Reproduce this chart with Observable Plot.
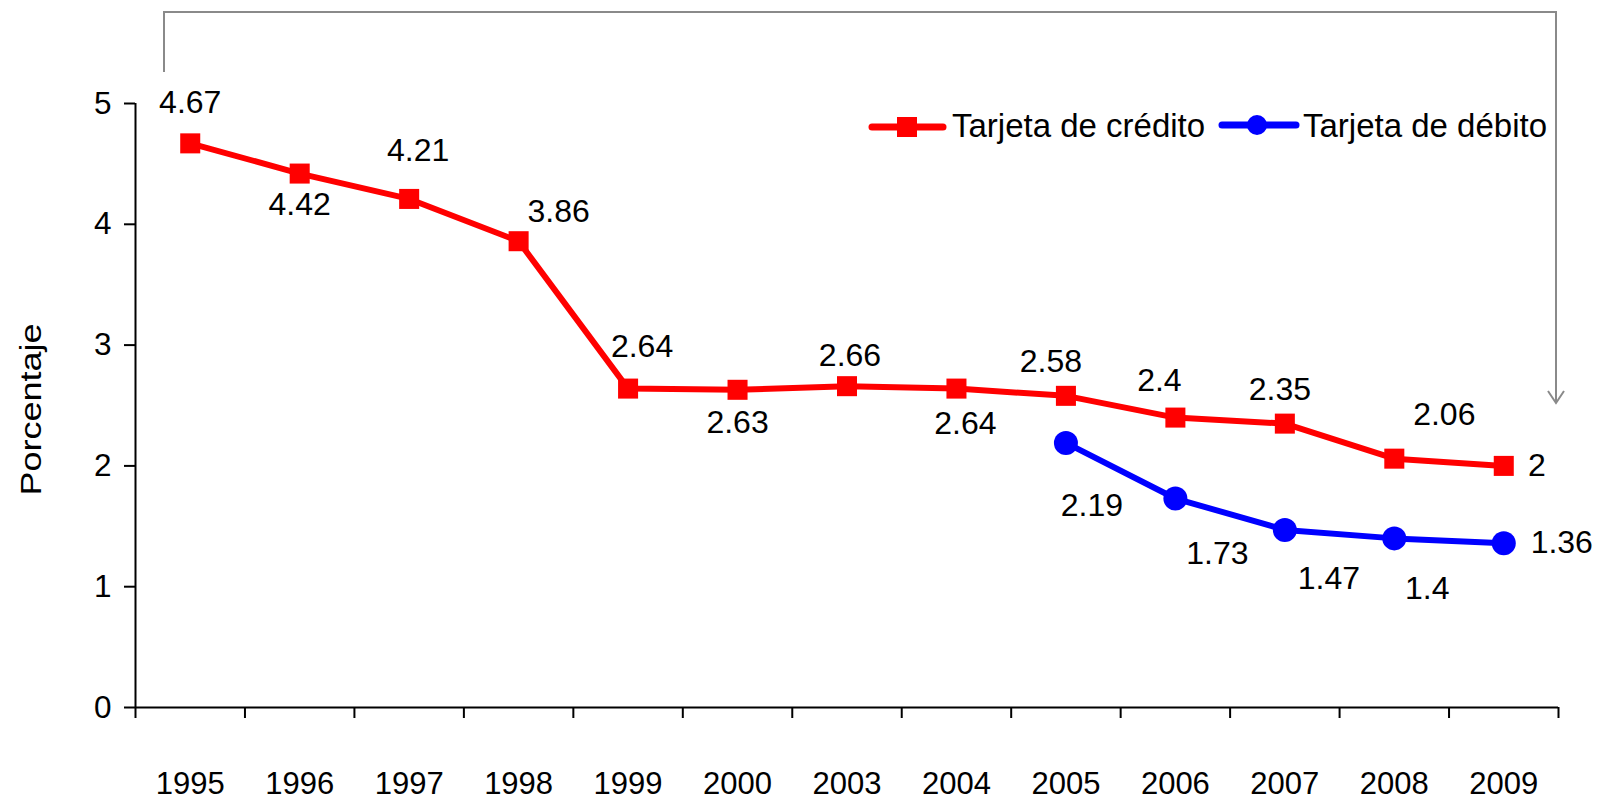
<!DOCTYPE html>
<html><head><meta charset="utf-8">
<script src="https://cdn.jsdelivr.net/npm/d3@7"></script>
<script src="https://cdn.jsdelivr.net/npm/@observablehq/plot@0.6"></script>
<style>body{margin:0;background:#fff;} svg{display:block}</style>
</head><body><div id="chart"></div>
<script>
// ---- data ----
const years = ["1995","1996","1997","1998","1999","2000","2003","2004","2005","2006","2007","2008","2009"];
const credito = [4.67, 4.42, 4.21, 3.86, 2.64, 2.63, 2.66, 2.64, 2.58, 2.4, 2.35, 2.06, 2];
const debitoYears = ["2005","2006","2007","2008","2009"];
const debito = [2.19, 1.73, 1.47, 1.4, 1.36];
const yTicks = [0, 1, 2, 3, 4, 5];
const seriesNames = ["Tarjeta de crédito", "Tarjeta de débito"];
const yLabel = "Porcentaje";

// ---- label placement offsets (px) ----
const creditoLabelDx = [0, 0, 9, 40, 14, 0, 3, 9, -15, -16, -5, 50, 33];
const creditoLabelDy = [-41, 31, -48, -29, -42, 33, -30, 35, -34, -37, -34, -44, 0];
const debitoLabelDx = [26, 42, 44, 33, 58];
const debitoLabelDy = [63, 55, 49, 50, 0];

const FONT = "'Liberation Sans', Arial, Helvetica, sans-serif";
const RED = "#FF0000", BLUE = "#0000FF", GRAY = "#8a8a8a";
const FS_LABEL = 32, FS_AXIS = 31.5, FS_YEAR = 31, FS_LEG = 33;

const credData = years.map((y, i) => ({i, year: y, value: credito[i], dx: creditoLabelDx[i], dy: creditoLabelDy[i]}));
const debData = debitoYears.map((y, k) => ({i: years.indexOf(y), year: y, value: debito[k], dx: debitoLabelDx[k], dy: debitoLabelDy[k]}));

const boundaries = d3.range(years.length + 1).map(k => k - 0.5);
const fmt = v => String(v);

const labelMarks = [
  ...credData.map(d => Plot.text([d], {x: "i", y: "value", text: d => fmt(d.value), dx: d.dx, dy: d.dy, fill: "black", fontSize: FS_LABEL})),
  ...debData.map(d => Plot.text([d], {x: "i", y: "value", text: d => fmt(d.value), dx: d.dx, dy: d.dy, fill: "black", fontSize: FS_LABEL}))
];

const chart = Plot.plot({
  width: 1599,
  height: 805,
  marginLeft: 135,
  marginRight: 41,
  marginTop: 103,
  marginBottom: 98,
  style: {fontFamily: FONT, fontSize: FS_AXIS + "px", color: "black", background: "white", overflow: "visible"},
  x: {type: "linear", domain: [-0.5, years.length - 0.5]},
  y: {domain: [0, 5]},
  marks: [
    Plot.axisY(yTicks, {tickSize: 11, tickPadding: 13, strokeWidth: 2, stroke: "black", label: null, fontSize: FS_AXIS, tickFormat: d => String(d)}),
    Plot.axisX(boundaries, {tickSize: 11, tickFormat: () => "", strokeWidth: 2, stroke: "black", label: null}),
    Plot.axisX(d3.range(years.length), {tickSize: 0, tickPadding: 64, tickFormat: i => years[i], label: null, fontSize: FS_YEAR}),
    Plot.ruleY([0], {stroke: "black", strokeWidth: 2}),
    Plot.ruleX([-0.5], {stroke: "black", strokeWidth: 2}),
    Plot.text([yLabel], {frameAnchor: "left", textAnchor: "middle", dx: -104, dy: 4, rotate: -90, fontSize: 29, fill: "black", className: "ylab"}),
    Plot.line(credData, {x: "i", y: "value", stroke: RED, strokeWidth: 6}),
    Plot.dot(credData, {x: "i", y: "value", symbol: "square", r: 11.3, fill: RED, stroke: "none"}),
    Plot.line(debData, {x: "i", y: "value", stroke: BLUE, strokeWidth: 6}),
    Plot.dot(debData, {x: "i", y: "value", symbol: "circle", r: 12, fill: BLUE, stroke: "none"}),
    ...labelMarks
  ]
});

document.getElementById("chart").appendChild(chart);

const svg = d3.select(chart);
// stretch the y-axis title to the reference's length
svg.selectAll("g.ylab text").attr("textLength", 172).attr("lengthAdjust", "spacingAndGlyphs");

// ---- annotations: legend and bracket arrow ----
const leg = svg.append("g").attr("font-family", FONT).attr("font-size", FS_LEG).attr("text-anchor", "start");
// credit entry
leg.append("line").attr("x1", 872).attr("x2", 943).attr("y1", 127).attr("y2", 127)
  .attr("stroke", RED).attr("stroke-width", 7).attr("stroke-linecap", "round");
leg.append("rect").attr("x", 897).attr("y", 117).attr("width", 20).attr("height", 20).attr("fill", RED);
leg.append("text").attr("x", 952).attr("y", 137).attr("fill", "black").text(seriesNames[0]);
// debit entry
leg.append("line").attr("x1", 1222).attr("x2", 1296).attr("y1", 125).attr("y2", 125)
  .attr("stroke", BLUE).attr("stroke-width", 7).attr("stroke-linecap", "round");
leg.append("circle").attr("cx", 1257).attr("cy", 125).attr("r", 10).attr("fill", BLUE);
leg.append("text").attr("x", 1303).attr("y", 137).attr("fill", "black").text(seriesNames[1]);

// bracket with arrow
const ann = svg.append("g").attr("fill", "none").attr("stroke", GRAY).attr("stroke-width", 2);
ann.append("path").attr("d", "M164,72V12H1556V402");
ann.append("path").attr("d", "M1548,391L1556,403L1564,391");
</script>
</body></html>
